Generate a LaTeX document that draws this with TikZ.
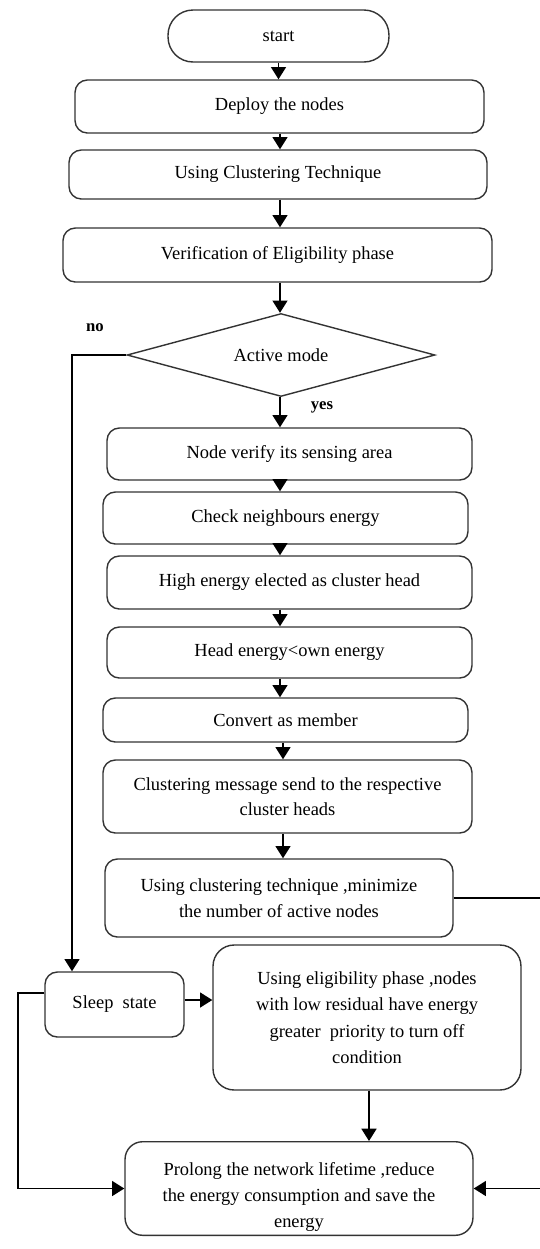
\documentclass[tikz,border=0pt]{standalone}
\usepackage{fontspec}
\setmainfont{Liberation Serif}
\usetikzlibrary{positioning,shapes.geometric,arrows.meta}

\begin{document}
\begin{tikzpicture}
  [x=0.02cm,y=-0.02cm,
   n/.style={draw,
             rounded corners=7pt,
             line width=0.8pt,
             align=center,
             inner sep=2pt,
             font=\fontsize{10.5}{14.5}\selectfont,
             draw=black!80,
             text=black},
   term/.style={n,
             rounded corners=0.5cm},
   dec/.style={draw,
             diamond,
             aspect=3.7,
             line width=0.8pt,
             inner sep=0pt,
             font=\fontsize{10.5}{14.5}\selectfont,
             draw=black!80,
             text=black},
   arr/.style={line width=1pt,
             -{Triangle[width=8.5pt,length=7pt]}},
   lbl/.style={font=\fontsize{9.5}{11}\selectfont\bfseries}]
  \useasboundingbox (0,0) rectangle (539,1249);

  \node[term,minimum width=4.42cm,minimum height=1.04cm] (start) at (278.5,36) {start};
  \node[n,minimum width=8.18cm,minimum height=1.06cm] (deploy) at (279.5,106.5) {Deploy the nodes};
  \node[n,minimum width=8.36cm,minimum height=0.98cm] (clus) at (278,174.5) {Using Clustering Technique};
  \node[n,minimum width=8.58cm,minimum height=1.08cm] (verif) at (277.5,255) {Verification of Eligibility phase};
  \node[dec,minimum width=6.16cm,minimum height=1.66cm] (dm) at (281,355) {Active mode};
  \node[n,minimum width=7.3cm,minimum height=1.04cm] (nver) at (289.5,454) {Node verify its sensing area};
  \node[n,minimum width=7.3cm,minimum height=1.04cm] (chk) at (285.5,518) {Check neighbours energy};
  \node[n,minimum width=7.3cm,minimum height=1.06cm] (high) at (289.5,582.5) {High energy elected as cluster head};
  \node[n,minimum width=7.3cm,minimum height=1.02cm] (head) at (289.5,652.5) {Head energy\textless own energy};
  \node[n,minimum width=7.3cm,minimum height=0.88cm] (conv) at (285.5,720) {Convert as member};
  \node[n,minimum width=7.38cm,minimum height=1.46cm] (msg) at (287.5,796.5)
    {Clustering message send to the respective\\cluster heads};
  \node[n,minimum width=6.96cm,minimum height=1.56cm] (mini) at (279,898)
    {Using clustering technique ,minimize\\the number of active nodes};
  \node[n,minimum width=2.78cm,minimum height=1.3cm] (sleep) at (114.5,1004.5) {Sleep~ state};
  \node[n,rounded corners=12pt,minimum width=6.16cm,minimum height=2.9cm,
        font=\fontsize{10.5}{15}\selectfont] (elig) at (367,1017.5)
    {Using eligibility phase ,nodes\\with low residual have energy\\greater~ priority to turn off\\condition};
  \node[n,rounded corners=10pt,minimum width=6.96cm,minimum height=1.86cm,
        font=\fontsize{10.5}{15}\selectfont] (prol) at (299,1188.5)
    {\rule{0pt}{17pt}Prolong the network lifetime ,reduce\\the energy consumption and save the\\energy};

  \node[lbl] (no) at (95,328) {no};
  \node[lbl] (yes) at (322,407) {yes};

  % main column
  \coordinate (ax) at (280,0);
  \draw[arr] (start) -- (deploy.north -| start);
  \draw[arr] (deploy.south -| ax) -- (clus.north -| ax);
  \draw[arr] (clus.south -| ax) -- (verif.north -| ax);
  \draw[arr] (verif.south -| ax) -- (dm.north -| ax);
  \draw[arr] (dm.south -| ax) -- (nver.north -| ax);
  \draw[arr] (nver.south -| ax) -- (chk.north -| ax);
  \draw[arr] (chk.south -| ax) -- (high.north -| ax);
  \draw[arr] (high.south -| ax) -- (head.north -| ax);
  \draw[arr] (head.south -| ax) -- (conv.north -| ax);
  \coordinate (bx) at (283,0);
  \draw[arr] (conv.south -| bx) -- (msg.north -| bx);
  \draw[arr] (msg.south -| bx) -- (mini.north -| bx);

  % no branch and sleep
  \coordinate (nx) at (72,355);
  \draw[arr] (dm.west) -- (nx) -- (nx |- sleep.north);
  \draw[arr] (sleep.east |- 0,1000) -- (elig.west |- 0,1000);
  \coordinate (lx) at (18,993);
  \draw[arr] (sleep.west |- lx) -- (lx) |- (prol.west);
  \draw[arr] (elig.south -| 369,0) -- (prol.north -| 369,0);

  % right return
  \coordinate (rx) at (542,898);
  \draw[arr] (mini.east) -- (rx) |- (prol.east);
\end{tikzpicture}
\end{document}
